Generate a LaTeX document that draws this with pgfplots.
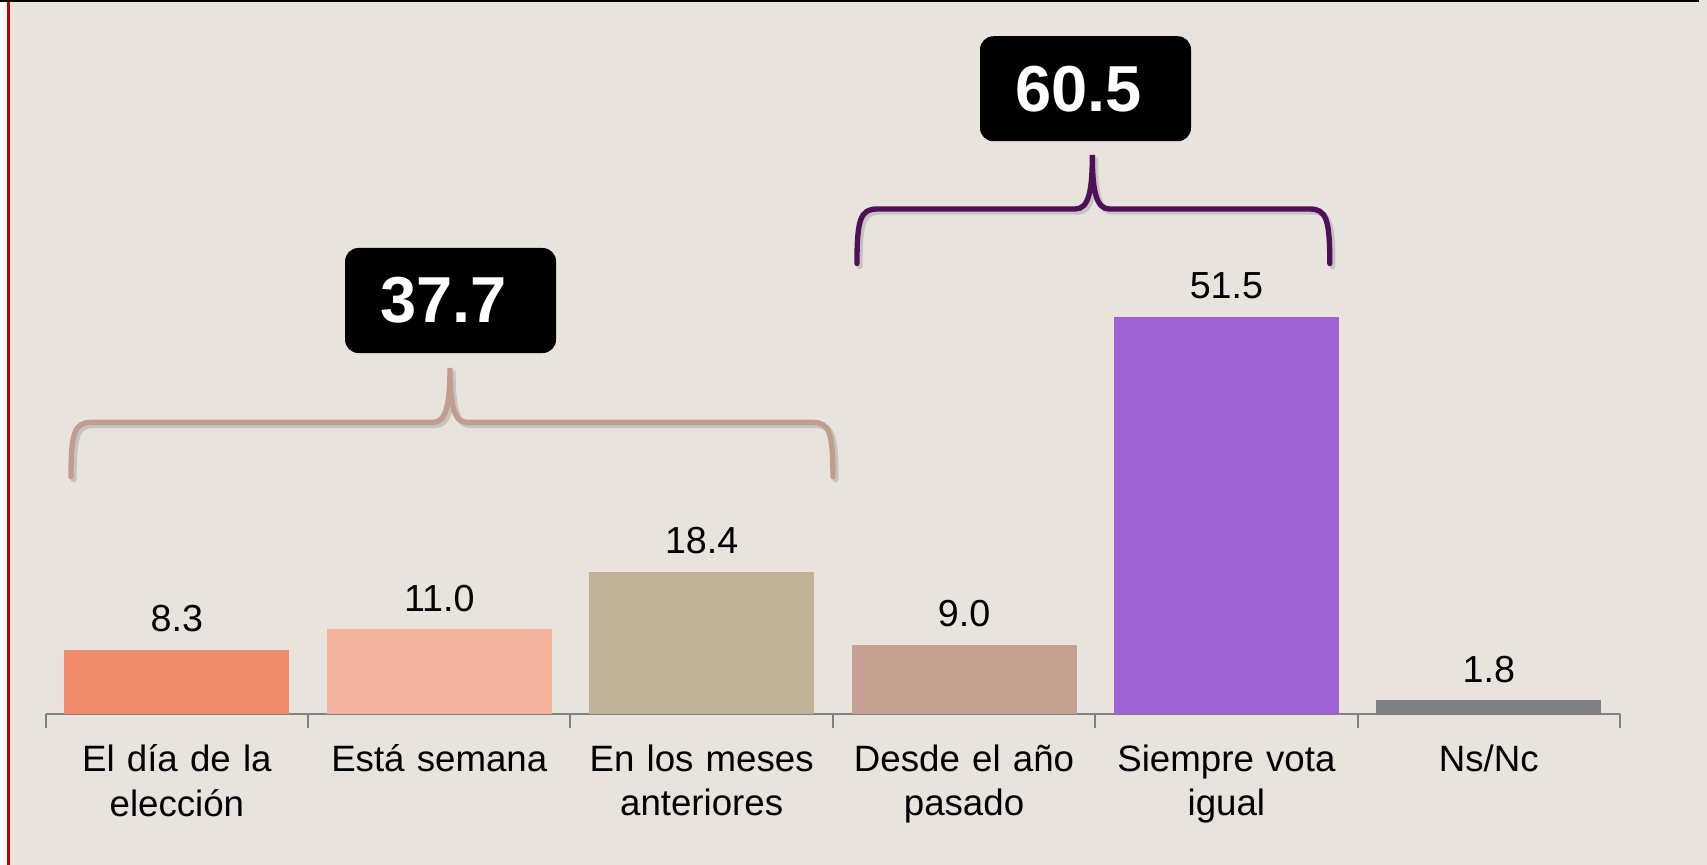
\documentclass[border=0pt]{standalone}
\usepackage{pgfplots}
\pgfplotsset{compat=1.18}
\usepackage{fontspec}
\setmainfont{Liberation Sans}

\definecolor{bgcol}{HTML}{E8E3DC}
\definecolor{redline}{HTML}{C00000}
\definecolor{axgray}{HTML}{808080}
\definecolor{cA}{HTML}{F08C6C}
\definecolor{cB}{HTML}{F4B39C}
\definecolor{cC}{HTML}{BEB396}
\definecolor{cD}{HTML}{C5A093}
\definecolor{cE}{HTML}{A062D0}
\definecolor{cF}{HTML}{808080}
\definecolor{braceL}{HTML}{C19D8F}
\definecolor{braceR}{HTML}{4E1058}

\begin{document}
\begin{tikzpicture}
% page background, 1707x865 px at 0.3pt per px
\fill[bgcol] (0,0) rectangle (512.1pt,259.5pt);
\useasboundingbox (0,0) rectangle (512.1pt,259.5pt);
\fill[white] (0,0) rectangle (2.1pt,259.5pt);
\fill[redline] (2.1pt,0) rectangle (3pt,259.5pt);
\fill[black] (0,258.9pt) rectangle (509.7pt,259.5pt);

\begin{axis}[
    at={(13.71pt,45.21pt)}, anchor=south west,
    scale only axis,
    width=472.29pt, height=185.28pt,
    xmin=-0.5, xmax=5.5,
    ymin=0, ymax=80,
    ybar, bar width=67.5pt,
    axis x line*=bottom,
    axis y line=none,
    x axis line style={-, draw=axgray, line width=0.6pt},
    xtick={0,1,2,3,4,5},
    xticklabels={El día de la\\elección, Está semana, En los meses\\anteriores,
                 Desde el año\\pasado, Siempre vota\\igual, Ns/Nc},
    major tick length=0pt,
    minor xtick={-0.5,0.5,1.5,2.5,3.5,4.5,5.5},
    minor tick length=4pt,
    tick align=outside,
    every minor tick/.style={draw=axgray, line width=0.6pt},
    xticklabel style={font=\fontsize{11}{13.4}\selectfont, text width=80pt,
                      align=center, yshift=-5.6pt},
    ytick=\empty,
    clip=false,
    nodes near coords,
    point meta=explicit symbolic,
    nodes near coords style={font=\fontsize{11.3}{13}\selectfont, anchor=south,
                             inner sep=0pt, yshift=5.2pt, text=black},
]
\addplot[fill=cA, draw=none, bar shift=0pt] coordinates {(0,8.3) [8.3]};
\addplot[fill=cB, draw=none, bar shift=0pt] coordinates {(1,11.0) [11.0]};
\addplot[fill=cC, draw=none, bar shift=0pt] coordinates {(2,18.4) [18.4]};
\addplot[fill=cD, draw=none, bar shift=0pt] coordinates {(3,9.0) [9.0]};
\addplot[fill=cE, draw=none, bar shift=0pt] coordinates {(4,51.5) [51.5]};
\addplot[fill=cF, draw=none, bar shift=0pt] coordinates {(5,1.8) [1.8]};

% left brace (37.7)
\draw[black!35, opacity=0.5, line width=1.8pt, line cap=round, shift={(0.8pt,-0.8pt)}]
  (axis cs:-0.4036,30.76) .. controls (axis cs:-0.4036,36.5) and (axis cs:-0.39,37.81) .. (axis cs:-0.327,37.81)
  -- (axis cs:0.976,37.81) .. controls (axis cs:1.0274,37.81) and (axis cs:1.0408,40.32) .. (axis cs:1.0408,44.86)
  .. controls (axis cs:1.0408,40.32) and (axis cs:1.0541,37.81) .. (axis cs:1.1056,37.81)
  -- (axis cs:2.424,37.81) .. controls (axis cs:2.487,37.81) and (axis cs:2.5004,36.5) .. (axis cs:2.5004,30.76);
\draw[braceL, line width=1.6pt, line cap=round]
  (axis cs:-0.4036,30.76) .. controls (axis cs:-0.4036,36.5) and (axis cs:-0.39,37.81) .. (axis cs:-0.327,37.81)
  -- (axis cs:0.976,37.81) .. controls (axis cs:1.0274,37.81) and (axis cs:1.0408,40.32) .. (axis cs:1.0408,44.86)
  .. controls (axis cs:1.0408,40.32) and (axis cs:1.0541,37.81) .. (axis cs:1.1056,37.81)
  -- (axis cs:2.424,37.81) .. controls (axis cs:2.487,37.81) and (axis cs:2.5004,36.5) .. (axis cs:2.5004,30.76);

% right brace (60.5)
\draw[black!35, opacity=0.5, line width=1.8pt, line cap=round, shift={(0.8pt,-0.8pt)}]
  (axis cs:2.592,58.39) .. controls (axis cs:2.592,64.1) and (axis cs:2.605,65.45) .. (axis cs:2.668,65.45)
  -- (axis cs:3.4245,65.45) .. controls (axis cs:3.476,65.45) and (axis cs:3.489,67.91) .. (axis cs:3.489,72.45)
  .. controls (axis cs:3.489,67.91) and (axis cs:3.503,65.45) .. (axis cs:3.554,65.45)
  -- (axis cs:4.318,65.45) .. controls (axis cs:4.381,65.45) and (axis cs:4.394,64.1) .. (axis cs:4.394,58.39);
\draw[braceR, line width=1.6pt, line cap=round]
  (axis cs:2.592,58.39) .. controls (axis cs:2.592,64.1) and (axis cs:2.605,65.45) .. (axis cs:2.668,65.45)
  -- (axis cs:3.4245,65.45) .. controls (axis cs:3.476,65.45) and (axis cs:3.489,67.91) .. (axis cs:3.489,72.45)
  .. controls (axis cs:3.489,67.91) and (axis cs:3.503,65.45) .. (axis cs:3.554,65.45)
  -- (axis cs:4.318,65.45) .. controls (axis cs:4.381,65.45) and (axis cs:4.394,64.1) .. (axis cs:4.394,58.39);

% total boxes
\node[fill=black, rounded corners=4pt, minimum width=63.3pt, minimum height=31.5pt,
      inner sep=0pt, text=white, font=\fontsize{19.5}{20}\selectfont\bfseries]
  at (axis cs:1.043,53.6) {37.7\kern4pt};
\node[fill=black, rounded corners=4pt, minimum width=63.3pt, minimum height=31.5pt,
      inner sep=0pt, text=white, font=\fontsize{19.5}{20}\selectfont\bfseries]
  at (axis cs:3.463,81.03) {60.5\kern4pt};
\end{axis}
\end{tikzpicture}
\end{document}
